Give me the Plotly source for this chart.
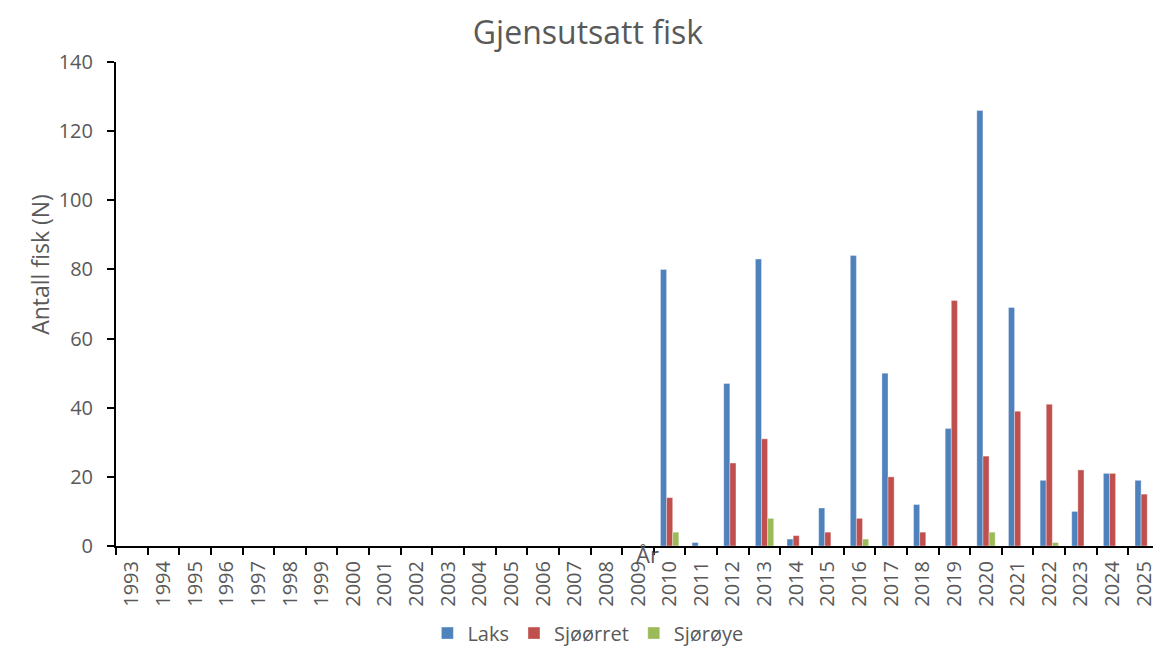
import plotly.graph_objects as go

years = [str(y) for y in range(1993, 2026)]

# 1993-2009 have no data
laks = [None] * 17 + [80, 1, 47, 83, 2, 11, 84, 50, 12, 34, 126, 69, 19, 10, 21, 19]
sjoorret = [None] * 17 + [14, 0, 24, 31, 3, 4, 8, 20, 4, 71, 26, 39, 41, 22, 21, 15]
sjoroye = [None] * 17 + [4, 0, 0, 8, 0, 0, 2, 0, 0, 0, 4, 0, 1, 0, 0, 0]

grey = "#595959"
font_name = "Open Sans"

fig = go.Figure()
fig.add_bar(x=years, y=laks, name="Laks", marker_color="#4F81BD")
fig.add_bar(x=years, y=sjoorret, name="Sjøørret", marker_color="#C0504D")
fig.add_bar(x=years, y=sjoroye, name="Sjørøye", marker_color="#9BBB59")

fig.update_traces(marker_line=dict(color="rgba(255,255,255,0.6)", width=0.6))

# page body has an 8px margin, so the figure is sized 8px smaller
fig.update_layout(
    width=1153,
    height=640,
    plot_bgcolor="white",
    paper_bgcolor="white",
    barmode="group",
    bargap=0.42,
    bargroupgap=0,
    margin=dict(l=108, r=1, t=54, b=102, autoexpand=False),
    font=dict(family=font_name, color=grey, size=20),
    title=dict(
        text="Gjensutsatt fisk",
        font=dict(family=font_name, size=32, color=grey),
        x=0.503, xanchor="center",
        y=0.962, yanchor="middle",
    ),
    xaxis=dict(
        type="category",
        range=[-0.5, 32.5],
        tickangle=-90,
        tickson="boundaries",
        ticks="outside",
        ticklen=7,
        tickwidth=2,
        tickcolor="black",
        ticklabelstandoff=5,
        showline=True,
        linecolor="black",
        linewidth=2,
        showgrid=False,
        automargin=False,
        tickfont=dict(size=20, color=grey),
    ),
    yaxis=dict(
        range=[0, 140],
        dtick=20,
        ticks="outside",
        ticklen=7,
        tickwidth=2,
        tickcolor="black",
        ticklabelstandoff=10,
        showline=True,
        linecolor="black",
        linewidth=2,
        showgrid=False,
        zeroline=False,
        automargin=False,
        tickfont=dict(size=20, color=grey),
    ),
    legend=dict(
        orientation="h",
        x=0.452, xanchor="center",
        y=-0.18, yanchor="middle",
        font=dict(size=20, color=grey),
        itemwidth=30,
    ),
    annotations=[
        dict(
            text="Antall fisk (N)", x=-0.09, y=0.581, xref="paper", yref="paper",
            textangle=-90, showarrow=False, font=dict(size=23, color=grey),
        ),
        dict(
            text="År", x=0.509, y=-0.052, xref="paper", yref="paper",
            showarrow=False, font=dict(size=22, color=grey),
        ),
    ],
)

fig.write_html("out.html")
